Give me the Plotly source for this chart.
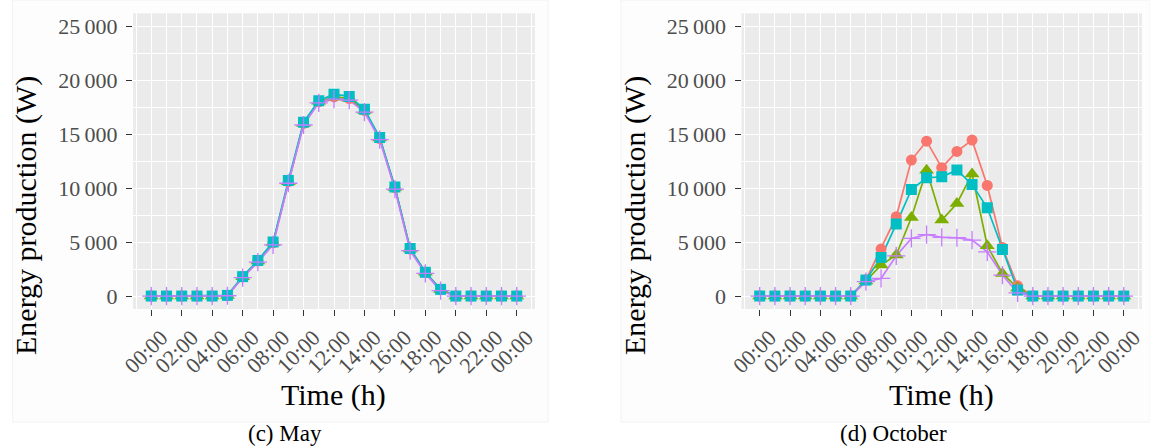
import plotly.graph_objects as go

hours = list(range(25))
tick_hours = list(range(0, 25, 2))
tick_text = ["00:00", "02:00", "04:00", "06:00", "08:00", "10:00", "12:00",
             "14:00", "16:00", "18:00", "20:00", "22:00", "00:00"]
y_ticks = [0, 5000, 10000, 15000, 20000, 25000]
y_text = ["0", "5\u2009000", "10\u2009000", "15\u2009000", "20\u2009000", "25\u2009000"]

series_names = ["S1", "S2", "S3", "S4"]
colors = ["#F8766D", "#7CAE00", "#00BFC4", "#C77CFF"]
symbols = ["circle", "triangle-up", "square", "cross-thin"]

# May
may_red = [0, 0, 0, 0, 0, 50, 1780, 3250, 4950, 10600, 16000, 18000, 18450, 18300, 17200, 14600, 10050, 4350, 2200, 600, 0, 0, 0, 0, 0]
may_green = [0, 0, 0, 0, 0, 50, 1780, 3250, 4950, 10600, 16000, 18050, 18450, 18300, 17200, 14650, 10050, 4350, 2200, 600, 0, 0, 0, 0, 0]
may_cyan = [0, 0, 0, 0, 0, 60, 1800, 3300, 5000, 10700, 16100, 18100, 18700, 18500, 17300, 14700, 10100, 4400, 2200, 620, 0, 0, 0, 0, 0]
may_purple = [0, 0, 0, 0, 0, 30, 1700, 3150, 4750, 10450, 15850, 17900, 18250, 18150, 17050, 14500, 9900, 4200, 2100, 500, 0, 0, 0, 0, 0]

# October
oct_red = [0, 0, 0, 0, 0, 0, 0, 1500, 4350, 7350, 12600, 14350, 11900, 13400, 14450, 10250, 4500, 950, 0, 0, 0, 0, 0, 0, 0]
oct_green = [0, 0, 0, 0, 0, 0, 0, 1400, 2870, 3800, 7280, 11650, 7040, 8580, 11300, 4660, 2100, 750, 0, 0, 0, 0, 0, 0, 0]
oct_cyan = [0, 0, 0, 0, 0, 0, 0, 1480, 3580, 6670, 9870, 10960, 11050, 11670, 10340, 8180, 4320, 550, 0, 0, 0, 0, 0, 0, 0]
oct_purple = [0, 0, 0, 0, 0, 0, 0, 1330, 1630, 3730, 5340, 5700, 5430, 5400, 5180, 4100, 1940, 300, 0, 0, 0, 0, 0, 0, 0]

panels = [
    ("x", "y", [may_red, may_green, may_cyan, may_purple]),
    ("x2", "y2", [oct_red, oct_green, oct_cyan, oct_purple]),
]

W, H = 1150, 448
fig = go.Figure()

for xa, ya, data in panels:
    for vals, c, nm in zip(data, colors, series_names):
        fig.add_trace(go.Scatter(x=hours, y=vals, mode="lines", xaxis=xa, yaxis=ya,
                                 line=dict(color=c, width=1.7), name=nm, showlegend=False,
                                 hoverinfo="skip"))
    for vals, c, sym, nm in zip(data, colors, symbols, series_names):
        size = 13 if sym in ("triangle-up", "cross-thin") else 11
        mk = dict(color=c, symbol=sym, size=size)
        if sym == "cross-thin":
            mk["line"] = dict(color=c, width=1.3)
        else:
            mk["line"] = dict(width=0)
        fig.add_trace(go.Scatter(x=hours, y=vals, mode="markers", xaxis=xa, yaxis=ya,
                                 marker=mk, name=nm, showlegend=False))

font_serif = "Liberation Serif, Times New Roman, serif"
tick_font = dict(family=font_serif, size=22, color="#4D4D4D")

def px_x(p):
    return p / W

def px_y(p):
    return 1 - p / H

minor_x = [-1] + list(range(1, 25, 2)) + [25]
minor_y = [2500, 7500, 12500, 17500, 22500]

common_x = dict(range=[-1.2, 25.2], tickvals=tick_hours, ticktext=tick_text, tickangle=-45,
                tickfont=tick_font, showgrid=True, gridcolor="white", gridwidth=1.1,
                zeroline=False, ticks="outside", ticklen=6, tickwidth=1.1, tickcolor="#333333",
                showline=False, automargin=False, fixedrange=True, ticklabelshift=10,
                minor=dict(tickvals=minor_x, showgrid=True, gridcolor="white", gridwidth=0.55, ticks=""))
common_y = dict(range=[-1200, 26200], tickvals=y_ticks, ticktext=y_text,
                tickfont=tick_font, showgrid=True, gridcolor="white", gridwidth=1.1,
                zeroline=False, ticks="outside", ticklen=6, tickwidth=1.1, tickcolor="#333333",
                showline=False, automargin=False, fixedrange=True, ticklabelstandoff=4,
                minor=dict(tickvals=minor_y, showgrid=True, gridcolor="white", gridwidth=0.55, ticks=""))

ydom = [px_y(309), px_y(13.3)]
fig.update_layout(
    width=W, height=H,
    margin=dict(l=0, r=0, t=0, b=0),
    paper_bgcolor="white",
    plot_bgcolor="#EBEBEB",
    showlegend=False,
    xaxis=dict(domain=[px_x(133), px_x(535)], anchor="y", **common_x),
    yaxis=dict(domain=ydom, anchor="x", **common_y),
    xaxis2=dict(domain=[px_x(741.5), px_x(1142)], anchor="y2", **common_x),
    yaxis2=dict(domain=ydom, anchor="x2", **common_y),
)

shapes = [
    dict(type="rect", xref="paper", yref="paper", x0=px_x(12.7), x1=px_x(548), y0=px_y(422), y1=1,
         fillcolor="#FDFDFD", line=dict(color="#F2F2F2", width=1), layer="below"),
    dict(type="rect", xref="paper", yref="paper", x0=px_x(621), x1=1.0, y0=px_y(422), y1=1,
         fillcolor="#FDFDFD", line=dict(color="#F2F2F2", width=1), layer="below"),
    dict(type="rect", xref="x domain", yref="y domain", x0=0, x1=1, y0=0, y1=1,
         fillcolor="#EBEBEB", line=dict(width=0), layer="below"),
    dict(type="rect", xref="x2 domain", yref="y2 domain", x0=0, x1=1, y0=0, y1=1,
         fillcolor="#EBEBEB", line=dict(width=0), layer="below"),
]
fig.update_layout(shapes=shapes)

title_font = dict(family=font_serif, size=30, color="black")
cap_font = dict(family=font_serif, size=23, color="black")
annots = [
    dict(text="Energy production (W)", x=px_x(26), y=px_y(216), textangle=-90, font=title_font,
         yanchor="middle"),
    dict(text="Energy production (W)", x=px_x(635), y=px_y(216), textangle=-90, font=title_font,
         yanchor="middle"),
    dict(text="Time (h)", x=px_x(333), y=px_y(395), font=title_font, yanchor="middle"),
    dict(text="Time (h)", x=px_x(941), y=px_y(395), font=title_font, yanchor="middle"),
    dict(text="(c) May", x=px_x(285), y=0, font=cap_font, yanchor="bottom"),
    dict(text="(d) October", x=px_x(893), y=0, font=cap_font, yanchor="bottom"),
]
for a in annots:
    a.update(xref="paper", yref="paper", showarrow=False, xanchor="center")
fig.update_layout(annotations=annots)

fig.write_html("out.html", config={"displayModeBar": False},
               post_script="document.body.style.margin='0';document.body.style.overflow='hidden';")
